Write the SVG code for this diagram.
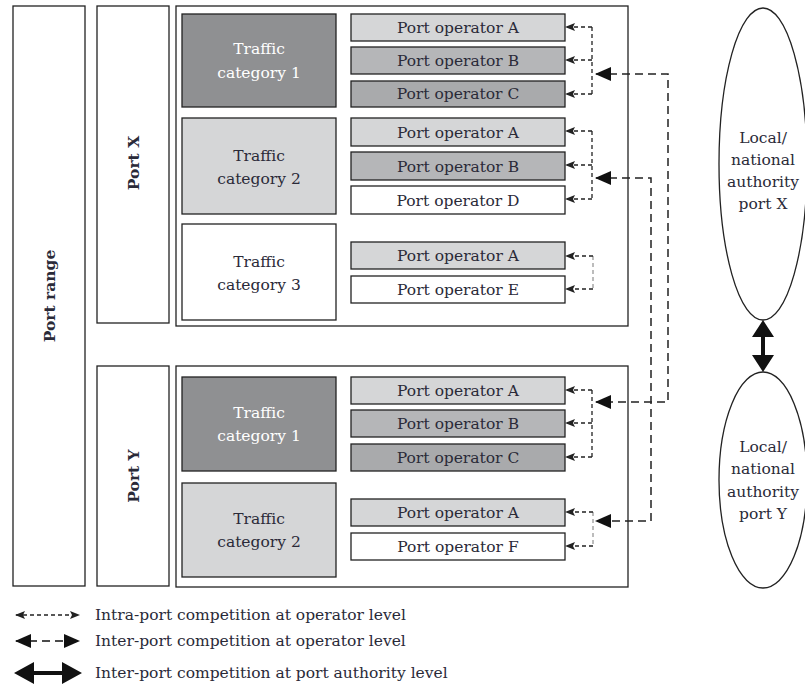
<svg xmlns="http://www.w3.org/2000/svg" width="805" height="684" viewBox="0 0 805 684">
<style>
.box{stroke:#222;stroke-width:1.3}
text{font-family:'DejaVu Serif','Liberation Serif',serif}
.t{font-size:15.5px;fill:#2a2a38;text-anchor:middle}
.b{font-weight:bold}
.w{fill:#ffffff}
.lg{font-size:15.5px;fill:#2a2a38}
.intra{stroke:#222;stroke-width:1.3;fill:none;stroke-dasharray:4,3}
.intrag{stroke:#999;stroke-width:1.3;fill:none;stroke-dasharray:4,3}
.inter{stroke:#222;stroke-width:1.5;fill:none;stroke-dasharray:8,5}
.d1{fill:#8f9092}.d2{fill:#d5d6d7}.d3{fill:#b5b6b8}.d0{fill:#ffffff}.dc{fill:#a9aaac}
</style>
<defs>
<marker id="sa" viewBox="0 0 10 8" refX="9" refY="4" markerWidth="10" markerHeight="8" markerUnits="userSpaceOnUse" orient="auto-start-reverse"><path d="M10,4 L0,0 L2,4 L0,8 Z" fill="#222"/></marker>
<marker id="ba" viewBox="0 0 16 14" refX="15" refY="7" markerWidth="16" markerHeight="14" markerUnits="userSpaceOnUse" orient="auto-start-reverse"><path d="M16,7 L0,0 L0,14 Z" fill="#111"/></marker>
</defs>
<rect width="805" height="684" fill="#fff"/>

<g id="port-range"><rect class="box" x="13" y="6" width="72" height="580" fill="#fff"/><text class="t b" transform="translate(55,296) rotate(-90)">Port range</text></g>
<g id="port-x"><rect class="box" x="97" y="6" width="72" height="317" fill="#fff"/><text class="t b" transform="translate(139,163) rotate(-90)">Port X</text></g>
<g id="port-x-container"><rect class="box" x="176" y="6" width="452" height="320" fill="none"/></g>
<g id="port-y"><rect class="box" x="97" y="366" width="72" height="220" fill="#fff"/><text class="t b" transform="translate(139,476) rotate(-90)">Port Y</text></g>
<g id="port-y-container"><rect class="box" x="176" y="366" width="452" height="221" fill="none"/></g>

<g id="x-tc1"><rect class="box d1" x="182" y="14" width="154" height="93"/><text class="t w" x="259" y="54">Traffic</text><text class="t w" x="259" y="78">category 1</text></g>
<g id="x-tc2"><rect class="box d2" x="182" y="118" width="154" height="96"/><text class="t" x="259" y="161">Traffic</text><text class="t" x="259" y="184">category 2</text></g>
<g id="x-tc3"><rect class="box d0" x="182" y="224" width="154" height="96"/><text class="t" x="259" y="267">Traffic</text><text class="t" x="259" y="290">category 3</text></g>
<g id="y-tc1"><rect class="box d1" x="182" y="377" width="154" height="94"/><text class="t w" x="259" y="418">Traffic</text><text class="t w" x="259" y="441">category 1</text></g>
<g id="y-tc2"><rect class="box d2" x="182" y="483" width="154" height="94"/><text class="t" x="259" y="524">Traffic</text><text class="t" x="259" y="547">category 2</text></g>

<g id="x1-opA"><rect class="box d2" x="351" y="14" width="214" height="27"/><text class="t" x="458" y="33">Port operator A</text></g>
<g id="x1-opB"><rect class="box d3" x="351" y="47" width="214" height="27"/><text class="t" x="458" y="66">Port operator B</text></g>
<g id="x1-opC"><rect class="box dc" x="351" y="81" width="214" height="26"/><text class="t" x="458" y="99">Port operator C</text></g>
<g id="x2-opA"><rect class="box d2" x="351" y="118" width="214" height="28"/><text class="t" x="458" y="138">Port operator A</text></g>
<g id="x2-opB"><rect class="box d3" x="351" y="152" width="214" height="28"/><text class="t" x="458" y="172">Port operator B</text></g>
<g id="x2-opD"><rect class="box d0" x="351" y="186" width="214" height="28"/><text class="t" x="458" y="206">Port operator D</text></g>
<g id="x3-opA"><rect class="box d2" x="351" y="242" width="214" height="27"/><text class="t" x="458" y="261">Port operator A</text></g>
<g id="x3-opE"><rect class="box d0" x="351" y="276" width="214" height="27"/><text class="t" x="458" y="295">Port operator E</text></g>
<g id="y1-opA"><rect class="box d2" x="351" y="377" width="214" height="27"/><text class="t" x="458" y="396">Port operator A</text></g>
<g id="y1-opB"><rect class="box d3" x="351" y="410" width="214" height="27"/><text class="t" x="458" y="429">Port operator B</text></g>
<g id="y1-opC"><rect class="box dc" x="351" y="444" width="214" height="27"/><text class="t" x="458" y="463">Port operator C</text></g>
<g id="y2-opA"><rect class="box d2" x="351" y="499" width="214" height="27"/><text class="t" x="458" y="518">Port operator A</text></g>
<g id="y2-opF"><rect class="box d0" x="351" y="533" width="214" height="27"/><text class="t" x="458" y="552">Port operator F</text></g>

<g id="auth-x"><ellipse cx="763" cy="164" rx="44" ry="156" fill="#fff" stroke="#222" stroke-width="1.3"/><text class="t" x="763" y="143">Local/</text><text class="t" x="763" y="165">national</text><text class="t" x="763" y="187">authority</text><text class="t" x="763" y="209">port X</text></g>
<g id="auth-y"><ellipse cx="763" cy="480" rx="44" ry="108" fill="#fff" stroke="#222" stroke-width="1.3"/><text class="t" x="763" y="452">Local/</text><text class="t" x="763" y="474">national</text><text class="t" x="763" y="497">authority</text><text class="t" x="763" y="519">port Y</text></g>

<g id="connectors">
<path class="intra" d="M592,27 V94"/>
<path class="intra" d="M592,27 H566" marker-end="url(#sa)"/>
<path class="intra" d="M592,60 H566" marker-end="url(#sa)"/>
<path class="intra" d="M592,94 H566" marker-end="url(#sa)"/>
<path class="intra" d="M592,131 V199"/>
<path class="intra" d="M592,131 H566" marker-end="url(#sa)"/>
<path class="intra" d="M592,165 H566" marker-end="url(#sa)"/>
<path class="intra" d="M592,199 H566" marker-end="url(#sa)"/>
<path class="intrag" d="M593,256 V289"/>
<path class="intra" d="M593,256 H566" marker-end="url(#sa)"/>
<path class="intra" d="M593,289 H566" marker-end="url(#sa)"/>
<path class="intra" d="M592,390 V457"/>
<path class="intra" d="M592,390 H566" marker-end="url(#sa)"/>
<path class="intra" d="M592,423 H566" marker-end="url(#sa)"/>
<path class="intra" d="M592,457 H566" marker-end="url(#sa)"/>
<path class="intrag" d="M593,512 V546"/>
<path class="intra" d="M593,512 H566" marker-end="url(#sa)"/>
<path class="intra" d="M593,546 H566" marker-end="url(#sa)"/>
<path class="inter" d="M596,74 H668 V402 H596" marker-start="url(#ba)" marker-end="url(#ba)"/>
<path class="inter" d="M596,178 H651 V521 H596" marker-start="url(#ba)" marker-end="url(#ba)"/>
<path d="M763,335 V357" stroke="#111" stroke-width="4"/>
<path d="M763,320 L752,337 L774,337 Z M763,372 L752,355 L774,355 Z" fill="#111"/>
</g>

<g id="legend">
<path class="intra" d="M16,615 H79" marker-start="url(#sa)" marker-end="url(#sa)"/>
<text class="lg" x="95" y="620">Intra-port competition at operator level</text>
<path d="M16,641 H79" stroke="#111" stroke-width="1.5" stroke-dasharray="8,5" fill="none" marker-start="url(#ba)" marker-end="url(#ba)"/>
<text class="lg" x="95" y="646">Inter-port competition at operator level</text>
<path d="M30,673 H66" stroke="#111" stroke-width="4"/>
<path d="M14,673 L34,662 L34,684 Z M82,673 L62,662 L62,684 Z" fill="#111"/>
<text class="lg" x="95" y="678">Inter-port competition at port authority level</text>
</g>
</svg>
